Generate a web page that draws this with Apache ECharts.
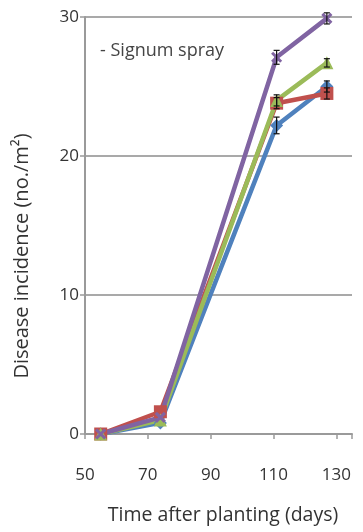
<!DOCTYPE html>
<html>
<head>
<meta charset="utf-8">
<script src="https://cdn.jsdelivr.net/npm/echarts@6/dist/echarts.min.js"></script>
<style>
  html, body { margin: 0; padding: 0; background: #fff; }
  #chart { width: 363px; height: 532px; }
</style>
</head>
<body>
<div id="chart"></div>
<script>
// Sampling days after planting
const days = [55, 74, 111, 127];

// Disease incidence (no./m²) per treatment
const seriesBlue   = [0, 0.8, 22.2, 25.0];
const seriesRed    = [0, 1.6, 23.8, 24.5];
const seriesGreen  = [0, 1.0, 24.0, 26.7];
const seriesPurple = [0, 1.2, 27.1, 29.9];

// Standard errors shown as small error bars
const errBlue   = [0, 0, 0.6, 0.4];
const errRed    = [0, 0, 0.4, 0.4];
const errGreen  = [0, 0, 0.4, 0.3];
const errPurple = [0, 0, 0.5, 0.4];

const yTicks = [0, 10, 20, 30];
const xTicks = [50, 70, 90, 110, 130];

const font = '"Open Sans", "Liberation Sans", sans-serif';

const palette = {
  blue: '#4F81BD', red: '#C0504D', green: '#9BBB59', purple: '#8064A2'
};

function lineSeries(name, values, color, symbol, size) {
  return {
    name, type: 'line',
    data: days.map((d, i) => [d, values[i]]),
    symbol, symbolSize: size,
    lineStyle: { color, width: 4.5 },
    itemStyle: { color, borderColor: color, borderWidth: symbol.startsWith('path') ? 3 : 0 },
    z: 3
  };
}

function errorSeries(values, errs) {
  return {
    type: 'custom',
    data: days.map((d, i) => [d, values[i], errs[i]]),
    renderItem(params, api) {
      const x = api.value(0), y = api.value(1), e = api.value(2);
      if (!e) return null;
      const hi = api.coord([x, y + e]);
      const lo = api.coord([x, y - e]);
      const w = 3;
      const st = { stroke: '#111', lineWidth: 1.2 };
      return {
        type: 'group',
        children: [
          { type: 'line', shape: { x1: hi[0], y1: hi[1], x2: lo[0], y2: lo[1] }, style: st },
          { type: 'line', shape: { x1: hi[0] - w, y1: hi[1], x2: hi[0] + w, y2: hi[1] }, style: st },
          { type: 'line', shape: { x1: lo[0] - w, y1: lo[1], x2: lo[0] + w, y2: lo[1] }, style: st }
        ]
      };
    },
    z: 4
  };
}

const chart = echarts.init(document.getElementById('chart'));
chart.setOption({
  animation: false,
  grid: { left: 85, right: 11, top: 17, bottom: 98, containLabel: false },
  xAxis: {
    type: 'value', min: 50, max: 135, interval: 20,
    axisLine: { show: true, lineStyle: { color: '#9a9a9a', width: 2 } },
    axisTick: { show: true, length: 5, inside: false, lineStyle: { color: '#9a9a9a', width: 1.5 } },
    axisLabel: {
      color: '#333', fontFamily: font, fontSize: 17, margin: 33,
      formatter: v => (xTicks.includes(v) ? String(v) : '')
    },
    splitLine: { show: false }
  },
  yAxis: {
    type: 'value', min: 0, max: 30, interval: 10,
    axisLine: { show: true, lineStyle: { color: '#9a9a9a', width: 2 } },
    axisTick: { show: true, length: 5, lineStyle: { color: '#9a9a9a', width: 1.5 } },
    axisLabel: {
      color: '#333', fontFamily: font, fontSize: 17, margin: 6,
      formatter: v => (yTicks.includes(v) ? String(v) : '')
    },
    splitLine: { show: true, lineStyle: { color: '#8c8c8c', width: 1.5 } }
  },
  graphic: [
    {
      type: 'text', left: 100, top: 42,
      style: { text: '- Signum spray', fill: '#444', font: '18px ' + font }
    },
    {
      type: 'text', x: 22, y: 256, rotation: Math.PI / 2,
      style: {
        text: 'Disease incidence (no./m²)', fill: '#333',
        font: '20px ' + font, textAlign: 'center', textVerticalAlign: 'middle'
      }
    },
    {
      type: 'text', x: 223, y: 515,
      style: {
        text: 'Time after planting (days)', fill: '#333',
        font: '19.5px ' + font, textAlign: 'center', textVerticalAlign: 'middle'
      }
    }
  ],
  series: [
    lineSeries('blue', seriesBlue, palette.blue, 'diamond', 13),
    lineSeries('red', seriesRed, palette.red, 'rect', 13),
    lineSeries('green', seriesGreen, palette.green, 'triangle', 13),
    lineSeries('purple', seriesPurple, palette.purple,
      'path://M0,0 L10,10 M10,0 L0,10', 9),
    errorSeries(seriesBlue, errBlue),
    errorSeries(seriesRed, errRed),
    errorSeries(seriesGreen, errGreen),
    errorSeries(seriesPurple, errPurple)
  ]
});
</script>
</body>
</html>
